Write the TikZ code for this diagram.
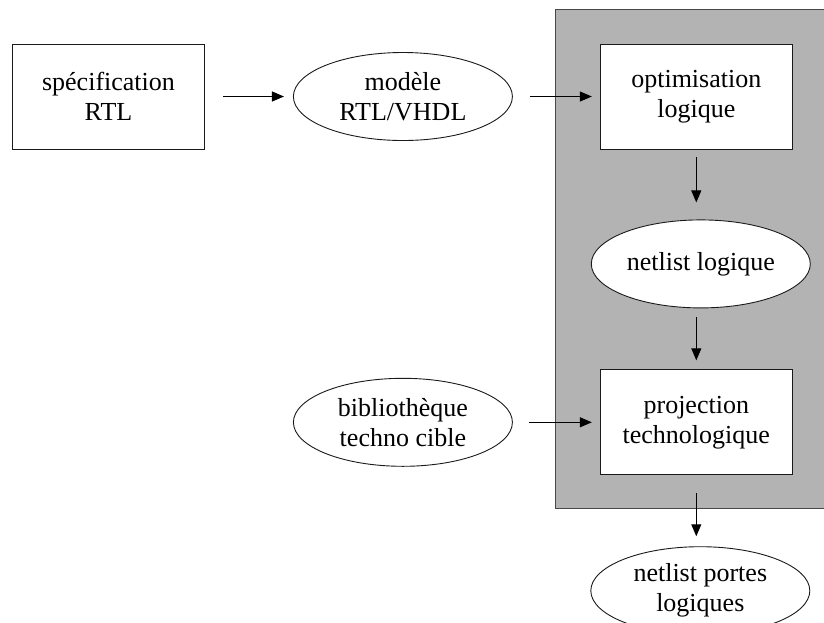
\documentclass[tikz,border=0pt]{standalone}
\usepackage{fontspec}
\setmainfont{Liberation Serif}
\usetikzlibrary{
  arrows.meta,
  shapes.geometric,
  positioning
}
\definecolor{synGray}{HTML}{B3B3B3}
\definecolor{synLine}{HTML}{1A1A1A}
\tikzset{
  synnode/.style={
    draw=synLine, fill=white, line width=0.9pt, align=center, inner sep=0pt,
    font=\fontsize{26}{30}\selectfont
  },
  synbox/.style={synnode, rectangle, minimum width=192pt, minimum height=105pt},
  synfile/.style={synnode, ellipse, minimum width=219pt, minimum height=88pt},
  flow/.style={-{Triangle[length=12pt, width=10pt]}, line width=1pt, black},
  zone/.style={draw=synLine!80, fill=synGray, line width=1pt}
}

\begin{document}
\begin{tikzpicture}[x=1pt, y=1pt]
  \useasboundingbox (0,0) rectangle (824,-622);
  \clip (0,0) rectangle (824,-622);
  % zone de synthese logique
  \fill[zone] (555,-9) rectangle (836,-508);
  \node[synbox] (spec) at (108.5,-96.5) {spécification\\RTL};
  \node[synfile, right=88pt of spec] (modele) {modèle\\RTL/VHDL};
  \node[synbox, right=87pt of modele] (optim) {optimisation\\logique};
  \node[synfile, below=70pt of optim, xshift=4.5pt] (netlog) {netlist logique};
  \node[synbox, below=61pt of netlog, xshift=-4.5pt] (proj) {projection\\technologique};
  \node[synfile, left=87pt of proj] (biblio) {bibliothèque\\techno cible};
  \node[synfile, below=71pt of proj, xshift=4pt] (portes) {netlist portes\\logiques};
  % fleches
  \draw[flow, shorten <=18pt, shorten >=9pt] (spec) -- (modele);
  \draw[flow, shorten <=17pt, shorten >=8pt] (modele) -- (optim);
  \draw[flow, shorten <=8pt, shorten >=17pt] (optim.south) -- (optim.south |- netlog.north);
  \draw[flow, shorten <=9pt, shorten >=9pt] (proj.north |- netlog.south) -- (proj.north);
  \draw[flow, shorten <=16pt, shorten >=8pt] (biblio) -- (proj);
  \draw[flow, shorten <=18pt, shorten >=10pt] (proj.south) -- (proj.south |- portes.north);
\end{tikzpicture}
\end{document}
